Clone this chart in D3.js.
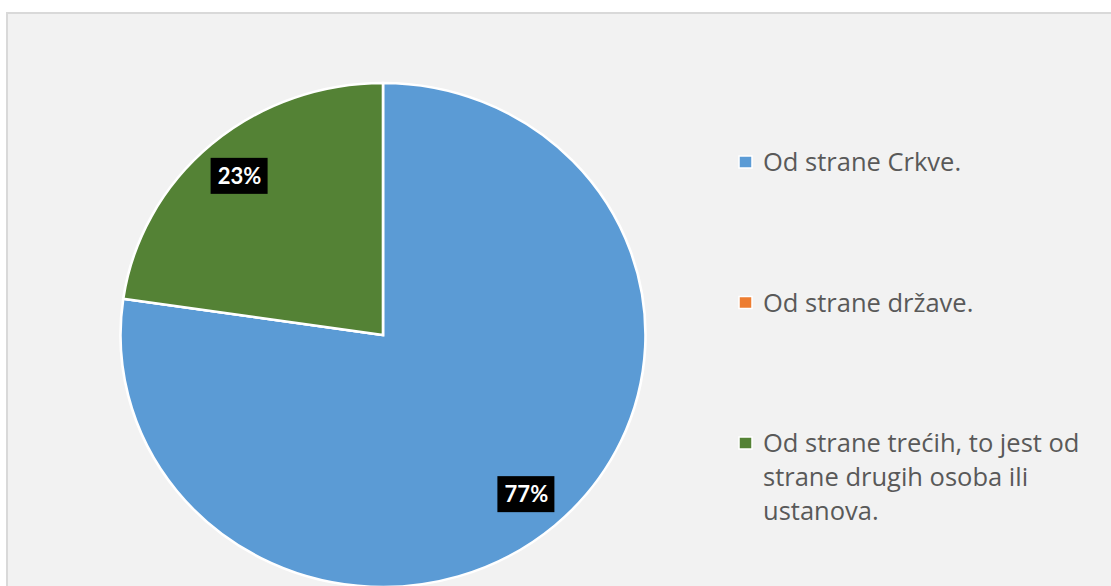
<!DOCTYPE html>
<html>
<head>
<meta charset="utf-8">
<script src="https://cdn.jsdelivr.net/npm/d3@7"></script>
<style>
  body { margin: 0; background: #fff; }
</style>
</head>
<body>
<div id="chart"></div>
<script>
// data (shares in %, labels show rounded values)
const categories = ["Od strane Crkve.", "Od strane države.", "Od strane trećih, to jest od strane drugih osoba ili ustanova."]
const values = [77.3, 0, 22.7]
const colors = ["#5b9bd5", "#ed7d31", "#548235"]

const W = 1111, H = 586

const svg = d3.select("#chart")
  .append("svg")
  .attr("width", W)
  .attr("height", H)

// chart area frame
svg.append("rect")
  .attr("x", 7).attr("y", 13)
  .attr("width", W + 20).attr("height", H + 20)
  .attr("fill", "#f2f2f2")
  .attr("stroke", "#d9d9d9")
  .attr("stroke-width", 2)

// pie is a bit wider than high in the picture
const cx = 383, cy = 335, r = 252, sx = 262.5 / 252

const pie = d3.pie().sort(null).value(d => d)
const arcs = pie(values)
const arc = d3.arc().innerRadius(0).outerRadius(r)
const labelArc = d3.arc().innerRadius(r * 0.835).outerRadius(r * 0.835)

const g = svg.append("g")
  .attr("transform", `translate(${cx},${cy}) scale(${sx},1)`)

g.selectAll("path")
  .data(arcs)
  .enter()
  .append("path")
    .attr("d", arc)
    .attr("fill", (d, i) => colors[i])
    .attr("stroke", "#fff")
    .attr("stroke-width", 2.5)
    .attr("stroke-linejoin", "miter")

// percentage labels
const labels = svg.append("g")
  .attr("transform", `translate(${cx},${cy})`)

const lab = labels.selectAll("g")
  .data(arcs.filter(d => d.value > 0))
  .enter()
  .append("g")
  .attr("transform", d => {
    const c = labelArc.centroid(d)
    return `translate(${c[0] * sx},${c[1]})`
  })

lab.append("rect")
  .attr("x", -29).attr("y", -18)
  .attr("width", 57).attr("height", 36)
  .attr("fill", "#000")

lab.append("text")
  .attr("text-anchor", "middle")
  .attr("y", 8)
  .attr("fill", "#fff")
  .style("font-family", "Lato, 'Open Sans', sans-serif")
  .style("font-weight", 700)
  .style("font-size", "22px")
  .text(d => Math.round(d.value / d3.sum(values) * 100) + "%")

// legend
const legendY = d3.scalePoint()
  .domain(categories)
  .range([171, 452])

const legend = svg.append("g")

const item = legend.selectAll("g")
  .data(categories)
  .enter()
  .append("g")
  .attr("transform", d => `translate(739,${legendY(d)})`)

item.append("rect")
  .attr("x", 0).attr("y", -15)
  .attr("width", 13).attr("height", 12)
  .attr("fill", (d, i) => colors[i])
  .attr("stroke", "#fff")
  .attr("stroke-width", 1.5)

const txt = item.append("text")
  .attr("x", 24)
  .attr("fill", "#595959")
  .style("font-family", "'Open Sans', sans-serif")
  .style("font-size", "25.5px")

// wrap long legend text into lines
const maxW = 345
txt.each(function(d) {
  const t = d3.select(this)
  const words = d.split(" ")
  let line = []
  let ts = t.append("tspan").attr("x", 24).attr("dy", 0)
  for (const w of words) {
    line.push(w)
    ts.text(line.join(" "))
    if (ts.node().getComputedTextLength() > maxW && line.length > 1) {
      line.pop()
      ts.text(line.join(" "))
      line = [w]
      ts = t.append("tspan").attr("x", 24).attr("dy", 34).text(w)
    }
  }
})
</script>
</body>
</html>
